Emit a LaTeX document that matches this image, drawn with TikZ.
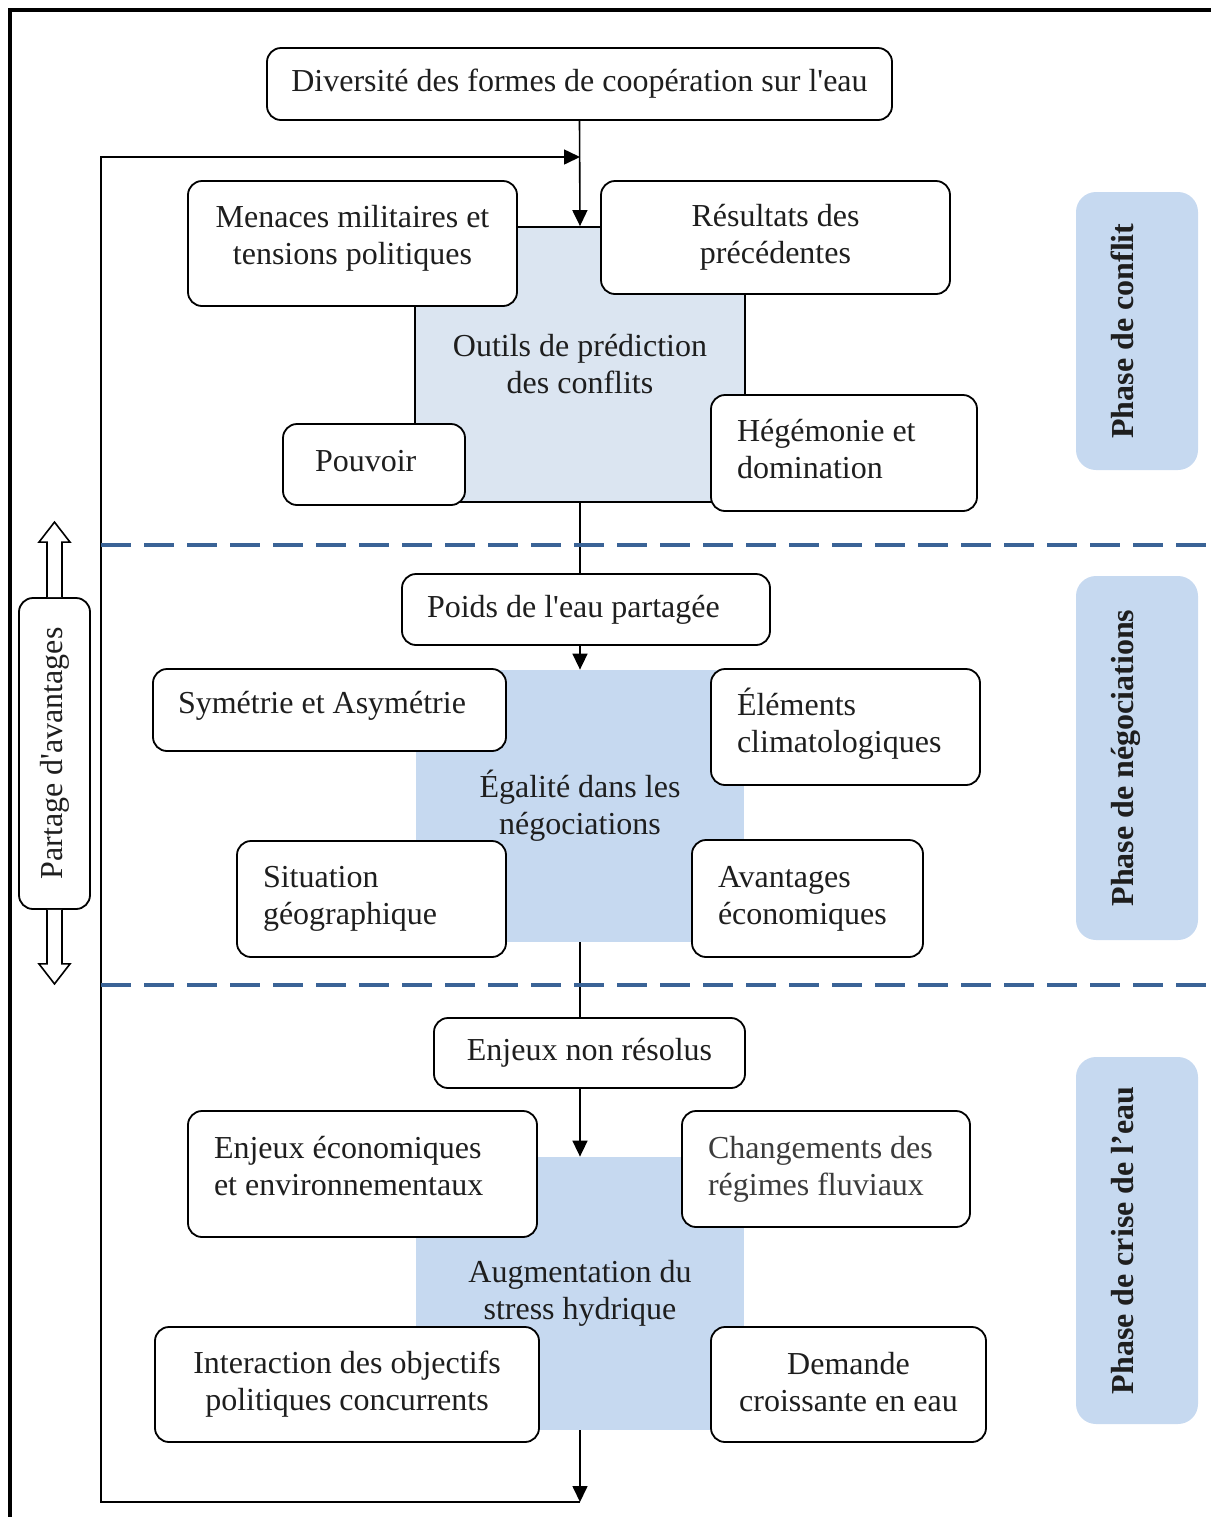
\documentclass[tikz,border=0pt]{standalone}
\usepackage{fontspec}
\setmainfont{Liberation Serif}
\usetikzlibrary{arrows.meta}
\definecolor{ToolFill}{HTML}{DBE5F1}
\definecolor{PhaseFill}{HTML}{C6D9F0}
\definecolor{SepBlue}{HTML}{3A6396}
\definecolor{InkText}{HTML}{1E1E1E}
\definecolor{SoftText}{HTML}{3C3C3C}

\begin{document}
\begin{tikzpicture}[x=0.5pt,y=-0.5pt,
      every node/.style={font=\fontsize{16}{18.5}\selectfont,text=InkText},
      wh/.style 2 args={minimum width=#1*0.5pt,minimum height=#2*0.5pt},
      box/.style={draw,fill=white,rounded corners=7pt,line width=0.9pt,align=center,inner sep=0pt},
      lbox/.style n args={3}{draw,fill=white,rounded corners=7pt,line width=0.9pt,align=flush left,
        inner ysep=0pt,inner xsep=#2*0.5pt,text width=(#1-2*#2)*0.5pt,minimum height=#3*0.5pt},
      toolarea/.style={draw,fill=ToolFill,line width=0.9pt,align=center,inner sep=0pt},
      area/.style={fill=PhaseFill,align=center,inner sep=0pt},
      phase/.style={fill=PhaseFill,rounded corners=10pt,rotate=90,inner sep=0pt,
        font=\fontsize{16}{18.5}\selectfont\bfseries,text depth=15pt},
      flow/.style={-{Triangle[width=7.5pt,length=8pt]},line width=0.8pt},
      link/.style={line width=0.8pt},
      divider/.style={SepBlue,line width=1.7pt,dash pattern=on 15pt off 6.5pt},
      blockarrow/.style={draw,fill=white,line width=0.8pt,line join=miter}]
    \useasboundingbox (0,0) rectangle (1211,1517);
    \draw[line width=2pt] (10,1530) -- (10,10) -- (1230,10);

    \node[box,wh={625}{72}] (diversity) at (579.5,84) {Diversité des formes de coopération sur l\textquotesingle eau};

    \node[toolarea,wh={330}{275}] (tools) at (580,364.5) {Outils de prédiction\\des conflits};
    \node[area,wh={328}{272}] (equality) at (580,806) {Égalité dans les\\négociations};
    \node[area,wh={328}{273}] (stress) at (580,1293.5) {Augmentation du\\stress hydrique};

    \node[box,wh={329}{125},text depth=8.5pt] (threats) at (352.5,243.5) {Menaces militaires et\\tensions politiques};
    \node[box,wh={349}{113}] (results) at (775.5,237.5) {Résultats des\\précédentes};
    \node[lbox={182}{32}{81},text depth=4pt] (power) at (374,464.5) {Pouvoir};
    \node[lbox={266}{26}{116},text depth=22.5pt] (hegemony) at (844,453) {Hégémonie et\\domination};

    \node[lbox={368}{25}{71}] (weight) at (586,609.5) {Poids de l\textquotesingle eau partagée};
    \node[lbox={353}{25}{82},text depth=7.5pt] (symmetry) at (329.5,710) {Symétrie et Asymétrie};
    \node[lbox={269}{26}{116},text depth=25pt] (climate) at (845.5,727) {Éléments\\climatologiques};
    \node[lbox={269}{26}{116}] (geography) at (371.5,899) {Situation\\géographique};
    \node[lbox={231}{26}{117}] (economy) at (807.5,898.5) {Avantages\\économiques};

    \node[box,wh={311}{70}] (unresolved) at (589.5,1053) {Enjeux non résolus};
    \node[lbox={349}{26}{126},text depth=26.5pt] (stakes) at (362.5,1174) {Enjeux économiques\\et environnementaux};
    \node[lbox={288}{26}{116},text=SoftText] (regimes) at (826,1169) {Changements des\\régimes fluviaux};
    \node[box,wh={384}{115}] (objectives) at (347,1384.5) {Interaction des objectifs\\politiques concurrents};
    \node[box,wh={275}{115},text depth=3pt] (demand) at (848.5,1384.5) {Demande\\croissante en eau};

    \node[phase,wh={278}{122}] (conflict) at (1137,331) {Phase de conflit};
    \node[phase,wh={364}{122}] (negotiation) at (1137,758) {Phase de négociations};
    \node[phase,wh={367}{122}] (crisis) at (1137,1240.5) {Phase de crise de l’eau};

    \node[box,wh={311}{71},rotate=90] (share) at (54.5,753.5) {Partage d\textquotesingle avantages};
    \draw[blockarrow] (share.east) ++(-7.5,0) -- ++(0,-55) -- ++(-8,0) -- ++(15.5,-20)
      -- ++(15.5,20) -- ++(-8,0) -- ++(0,55);
    \draw[blockarrow] (share.west) ++(-7.5,0) -- ++(0,54) -- ++(-8,0) -- ++(15.5,20)
      -- ++(15.5,-20) -- ++(-8,0) -- ++(0,-54);

    \coordinate (loopTop) at (580,157);
    \coordinate (loopBottom) at (580,1502);
    \coordinate (loopSide) at (101,830);
    \draw[flow] (diversity.south) -- (tools.north);
    \draw[flow] (loopBottom) -| (loopSide) |- (loopTop);
    \draw[flow] (stress.south) -- (loopBottom);
    \draw[link] (tools.south) -- (tools.south |- weight.north);
    \draw[flow] (tools.south |- weight.south) -- (equality.north);
    \draw[link] (equality.south) -- (equality.south |- unresolved.north);
    \draw[flow] (equality.south |- unresolved.south) -- (stress.north);

    \draw[divider] (101,545) -- (1215,545);
    \draw[divider] (101,985) -- (1215,985);
  \end{tikzpicture}
\end{document}
